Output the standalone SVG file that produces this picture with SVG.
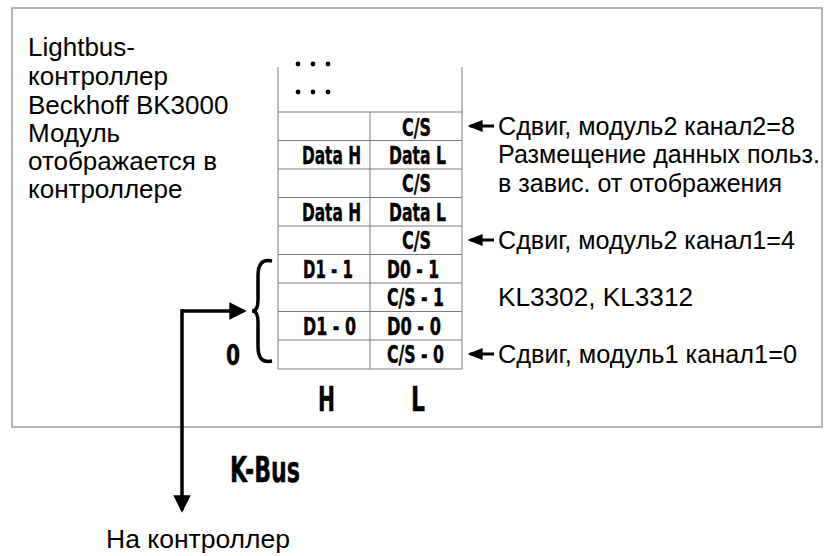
<svg xmlns="http://www.w3.org/2000/svg" width="828" height="556" viewBox="0 0 828 556">
<style>
.frame{fill:none;stroke:#9a9a9a;stroke-width:1.5}
.grid{stroke:#7a7a7a;stroke-width:1;fill:none}
.t{font-family:"Liberation Sans",Arial,sans-serif;font-size:26px;fill:#000}
.r{font-size:25px}
.c{font-family:"DejaVu Sans Condensed","Liberation Sans Narrow","Liberation Sans",sans-serif;font-weight:bold;fill:#000;stroke:#000;stroke-width:0.4}
.cell{font-size:25px}
.thick{stroke:#000;stroke-width:3.5;fill:none}
.thin{stroke:#000;stroke-width:3;fill:none}
</style>
<defs>
<marker id="ah" markerWidth="5" markerHeight="5" refX="4.2" refY="2.5" orient="auto" markerUnits="strokeWidth">
<path d="M0,0 L5,2.5 L0,5 Z" fill="#000"/>
</marker>
<marker id="ahs" markerWidth="5" markerHeight="4" refX="4.2" refY="2" orient="auto" markerUnits="strokeWidth">
<path d="M0,0 L5,2 L0,4 Z" fill="#000"/>
</marker>
</defs>
<rect class="frame" x="12" y="8" width="810" height="419"/>
<g id="controller-text">
<text class="t" x="28" y="56">Lightbus-</text>
<text class="t" x="28" y="85">контроллер</text>
<text class="t" x="28" y="114">Beckhoff BK3000</text>
<text class="t" x="28" y="142">Модуль</text>
<text class="t" x="28" y="170">отображается в</text>
<text class="t" x="28" y="198">контроллере</text>
</g>
<g id="table">
<path class="grid" d="M278,67 V369 H462 V67 M370,112 V369 M278,112 H462 M278,140.5 H462 M278,169 H462 M278,197.5 H462 M278,226 H462 M278,254.5 H462 M278,283 H462 M278,311.5 H462 M278,340 H462"/>
<g fill="#000">
<circle cx="298" cy="64" r="2.4"/><circle cx="313" cy="64" r="2.4"/><circle cx="328" cy="64" r="2.4"/>
<circle cx="298" cy="92" r="2.4"/><circle cx="313" cy="92" r="2.4"/><circle cx="328" cy="92" r="2.4"/>
</g>
<text class="c cell" x="402" y="136" textLength="29" lengthAdjust="spacingAndGlyphs">C/S</text>
<text class="c cell" x="302" y="164" textLength="59" lengthAdjust="spacingAndGlyphs">Data H</text>
<text class="c cell" x="389" y="164" textLength="57" lengthAdjust="spacingAndGlyphs">Data L</text>
<text class="c cell" x="402" y="192" textLength="29" lengthAdjust="spacingAndGlyphs">C/S</text>
<text class="c cell" x="302" y="220.5" textLength="59" lengthAdjust="spacingAndGlyphs">Data H</text>
<text class="c cell" x="389" y="220.5" textLength="57" lengthAdjust="spacingAndGlyphs">Data L</text>
<text class="c cell" x="402" y="249" textLength="29" lengthAdjust="spacingAndGlyphs">C/S</text>
<text class="c cell" x="303" y="277.5" textLength="50" lengthAdjust="spacingAndGlyphs">D1 - 1</text>
<text class="c cell" x="387" y="277.5" textLength="52" lengthAdjust="spacingAndGlyphs">D0 - 1</text>
<text class="c cell" x="387" y="306" textLength="57" lengthAdjust="spacingAndGlyphs">C/S - 1</text>
<text class="c cell" x="303" y="334.5" textLength="53" lengthAdjust="spacingAndGlyphs">D1 - 0</text>
<text class="c cell" x="387" y="334.5" textLength="54" lengthAdjust="spacingAndGlyphs">D0 - 0</text>
<text class="c cell" x="387" y="363" textLength="57" lengthAdjust="spacingAndGlyphs">C/S - 0</text>
<text class="c" font-size="34" x="318" y="411" textLength="17" lengthAdjust="spacingAndGlyphs">H</text>
<text class="c" font-size="34" x="411" y="411" textLength="14" lengthAdjust="spacingAndGlyphs">L</text>
</g>
<g id="brace-label">
<text class="c" font-size="28" x="226" y="365" textLength="14" lengthAdjust="spacingAndGlyphs">0</text>
</g>
<g id="labels">
<text class="t r" x="498" y="135" textLength="297" lengthAdjust="spacingAndGlyphs">Сдвиг, модуль2 канал2=8</text>
<text class="t r" x="498" y="163" textLength="322" lengthAdjust="spacingAndGlyphs">Размещение данных польз.</text>
<text class="t r" x="498" y="192" textLength="284" lengthAdjust="spacingAndGlyphs">в завис. от отображения</text>
<text class="t r" x="498" y="249" textLength="297" lengthAdjust="spacingAndGlyphs">Сдвиг, модуль2 канал1=4</text>
<text class="t r" x="498" y="306" textLength="195" lengthAdjust="spacingAndGlyphs">KL3302, KL3312</text>
<text class="t r" x="498" y="363" textLength="299" lengthAdjust="spacingAndGlyphs">Сдвиг, модуль1 канал1=0</text>
</g>
<g id="kbus">
<text class="c" font-size="35" x="230" y="482" textLength="70" lengthAdjust="spacingAndGlyphs">K-Bus</text>
<text class="t" x="106" y="548" font-size="26.5" textLength="184" lengthAdjust="spacingAndGlyphs">На контроллер</text>
</g>
<g id="connectors">
<path class="thick" d="M272,261 C262,259 258,264 258,276 V300 C258,308 256,311 252,311 C256,311 258,314 258,322 V346 C258,358 262,363 272,361" stroke-width="5"/>
<path class="thick" d="M182,311 H244" marker-end="url(#ah)"/>
<path class="thick" d="M182,309.25 V510" marker-end="url(#ah)"/>
<path class="thin" d="M494,126 H470" marker-end="url(#ahs)"/>
<path class="thin" d="M494,240 H470" marker-end="url(#ahs)"/>
<path class="thin" d="M494,354 H470" marker-end="url(#ahs)"/>
</g>
</svg>
